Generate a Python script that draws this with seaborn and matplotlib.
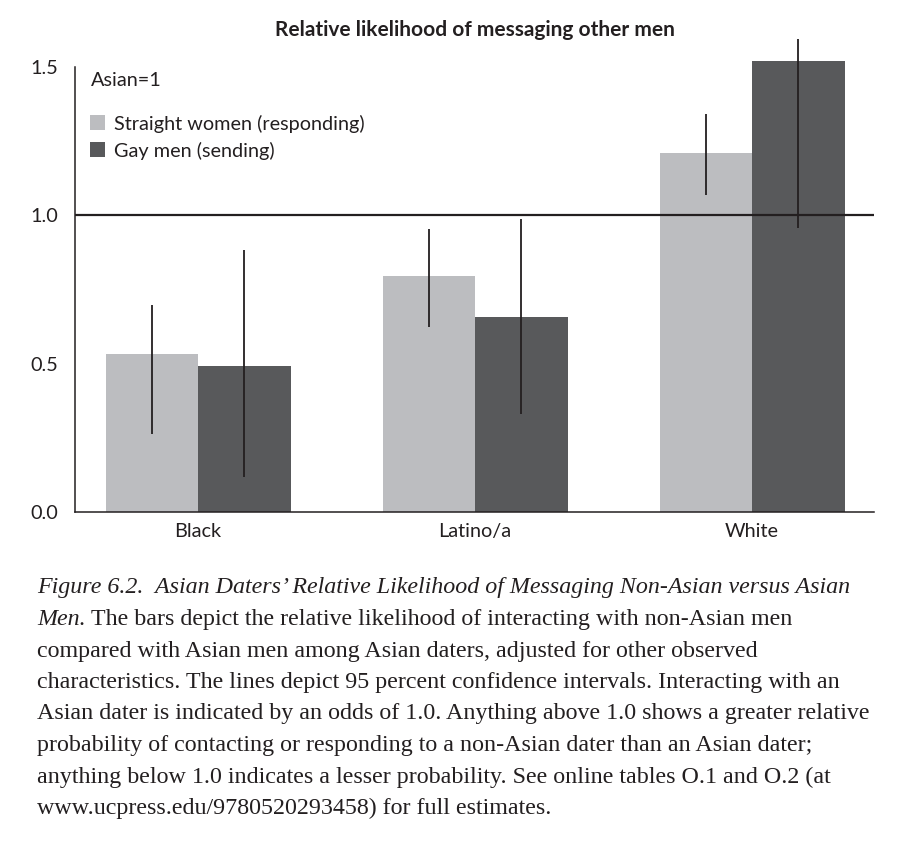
import matplotlib
matplotlib.use("Agg")
import matplotlib.pyplot as plt
import pandas as pd
import seaborn as sns

# values (odds ratios, Asian = 1)
groups = ["Black", "Latino/a", "White"]
series = ["Straight women (responding)", "Gay men (sending)"]
women = [0.533, 0.795, 1.210]
women_lo = [0.263, 0.624, 1.068]
women_hi = [0.698, 0.954, 1.341]
men = [0.492, 0.657, 1.520]
men_lo = [0.119, 0.330, 0.957]
men_hi = [0.883, 0.988, 1.593]
yticks = [0.0, 0.5, 1.0, 1.5]

title = "Relative likelihood of messaging other men"
caption_italic = "Figure 6.2.  Asian Daters\u2019 Relative Likelihood of Messaging Non-Asian versus Asian"
caption_italic2 = "Men."
caption_rest = [
    "The bars depict the relative likelihood of interacting with non-Asian men",
    "compared with Asian men among Asian daters, adjusted for other observed",
    "characteristics. The lines depict 95 percent confidence intervals. Interacting with an",
    "Asian dater is indicated by an odds of 1.0. Anything above 1.0 shows a greater relative",
    "probability of contacting or responding to a non-Asian dater than an Asian dater;",
    "anything below 1.0 indicates a lesser probability. See online tables O.1 and O.2 (at",
    "www.ucpress.edu/9780520293458) for full estimates.",
]

LIGHT = "#bcbdc0"
DARK = "#58595b"
INK = "#231f20"

df = pd.DataFrame({
    "group": groups * 2,
    "series": [series[0]] * 3 + [series[1]] * 3,
    "value": women + men,
    "lo": women_lo + men_lo,
    "hi": women_hi + men_hi,
})

sns.set_style("white")
plt.rcParams["font.family"] = ["Lato", "DejaVu Sans"]
plt.rcParams["text.color"] = INK

fig = plt.figure(figsize=(9.24, 8.48), dpi=100)
ax = fig.add_axes([0.0812, 0.3962, 0.8647, 0.5248])

sns.barplot(data=df, x="group", y="value", hue="series", order=groups,
            hue_order=series, palette=[LIGHT, DARK], saturation=1,
            width=0.668, gap=0, errorbar=None, linewidth=0, ax=ax)

# confidence interval lines through each bar
for cont, s in zip(ax.containers, series):
    sub = df[df.series == s].set_index("group").loc[groups]
    for bar, lo, hi in zip(cont, sub["lo"], sub["hi"]):
        bar.set_clip_on(False)
        xc = bar.get_x() + bar.get_width() / 2
        ax.vlines(xc, lo, hi, color=INK, lw=1.3, clip_on=False, zorder=4)

ax.axhline(1.0, color=INK, lw=1.6, zorder=3)

ax.set_xlim(-0.444, 2.44)
ax.set_ylim(0, 1.5)
ax.set_yticks(yticks)
ax.set_yticklabels([f"{t:.1f}" for t in yticks])
ax.set_xlabel("")
ax.set_ylabel("")
sns.despine(ax=ax)
for side in ["left", "bottom"]:
    ax.spines[side].set_color(INK)
    ax.spines[side].set_linewidth(1.1)
ax.tick_params(axis="y", length=4, width=1.0, color=INK, labelsize=14.3, pad=8, labelcolor=INK)
ax.tick_params(axis="x", length=0, labelsize=14.3, pad=8, labelcolor=INK)

ax.set_title(title, fontsize=15, fontweight="bold", pad=22, color=INK)

ax.text(0.02, 0.97, "Asian=1", transform=ax.transAxes, fontsize=14.3, va="center", color=INK)
handles, labels = ax.get_legend_handles_labels()
ax.legend(handles, labels, loc="upper left", bbox_to_anchor=(0.019, 0.893), frameon=False,
          fontsize=14.3, handlelength=0.75, handleheight=0.75, handletextpad=0.45,
          labelspacing=0.45, borderaxespad=0, borderpad=0)

# caption below the chart
cap_font = dict(family="Liberation Serif", fontsize=17.3, color=INK)
x0 = 37 / 924
line_y = [588, 619.5, 651, 682.5, 714, 745.5, 777, 808.5]
fig.text(x0, 1 - line_y[0] / 848, caption_italic, style="italic", va="center", **cap_font)
t2 = fig.text(x0, 1 - line_y[1] / 848, caption_italic2, style="italic", va="center", **cap_font)
fig.canvas.draw()
bb = t2.get_window_extent(fig.canvas.get_renderer())
fig.text(bb.x1 / fig.bbox.width + 5 / 924, 1 - line_y[1] / 848, caption_rest[0], va="center", **cap_font)
for y, line in zip(line_y[2:], caption_rest[1:]):
    fig.text(x0, 1 - y / 848, line, va="center", **cap_font)

fig.savefig("out.png", dpi=100)
